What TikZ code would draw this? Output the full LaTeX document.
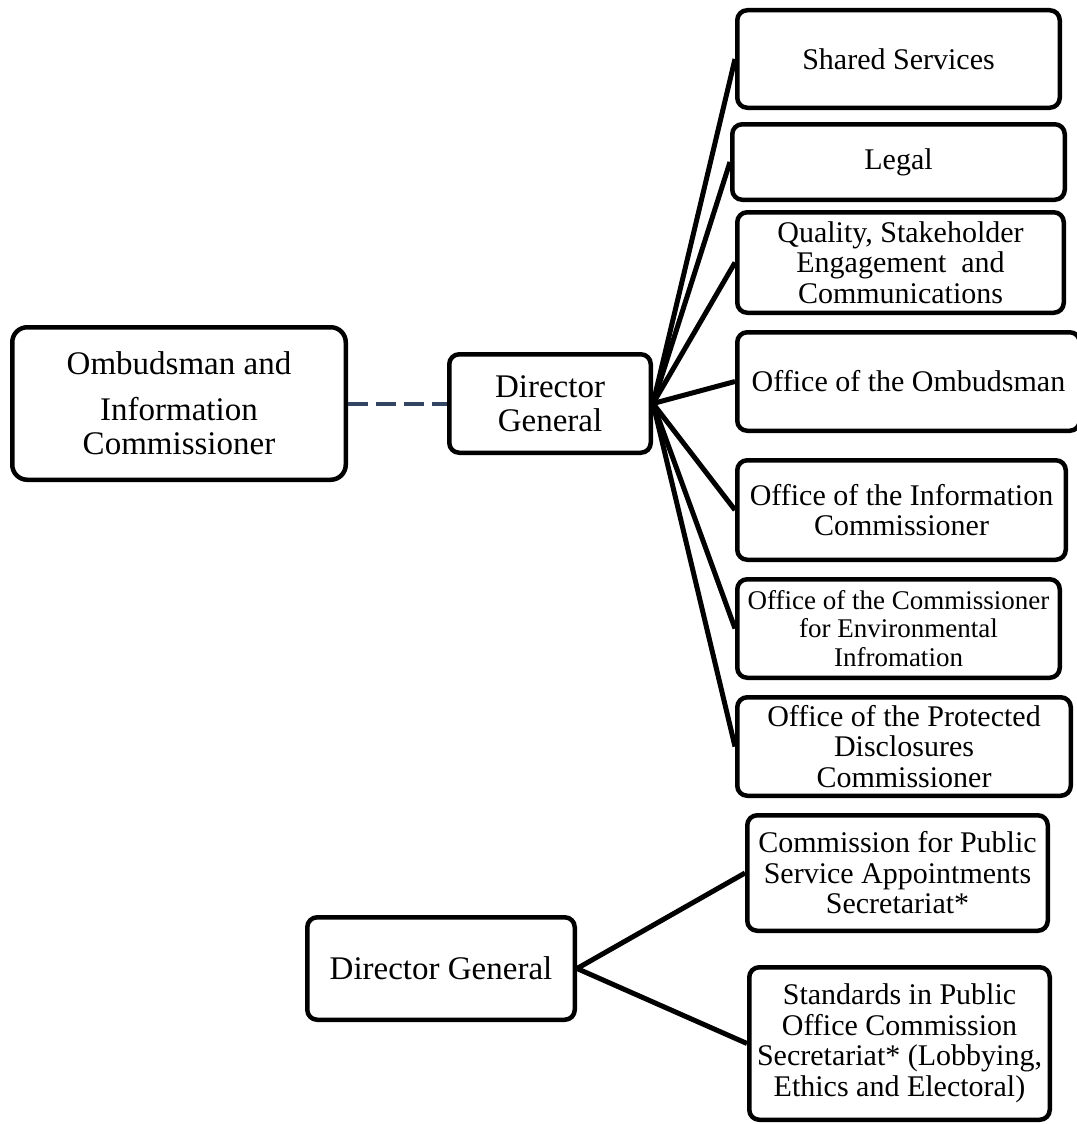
\documentclass[tikz,border=0pt]{standalone}
\usepackage{fontspec}
\setmainfont{Liberation Serif}
\begin{document}
\begin{tikzpicture}[x=1pt,y=-1pt,
  box/.style={draw=black, line width=4.5pt, rounded corners=10pt, align=center, inner sep=0pt, font=\fontsize{30}{30.5}\selectfont},
  bigbox/.style={box, font=\fontsize{33}{34}\selectfont},
  smallbox/.style={box, font=\fontsize{27}{28.5}\selectfont},
  link/.style={draw=black, line width=5pt},
  dashlink/.style={draw={rgb,255:red,50;green,70;blue,100}, line width=4pt, dash pattern=on 20pt off 8pt}
]
\useasboundingbox (0,0) rectangle (1076,1124);

\node[bigbox, rounded corners=15pt, minimum width=333.5pt, minimum height=152.5pt] (oic) at (179,403.5)
  {Ombudsman and\\[12pt]Information\\Commissioner};
\node[bigbox, minimum width=201.5pt, minimum height=98.5pt] (dg1) at (550,403.5)
  {Director\\General};

\node[box, minimum width=322.5pt, minimum height=97.5pt] (ss) at (898.5,59) {Shared Services};
\node[box, minimum width=332.5pt, minimum height=75.5pt] (legal) at (898.5,162) {Legal};
\node[box, minimum width=326.5pt, minimum height=100.5pt] (qual) at (900.5,262.5)
  {Quality, Stakeholder\\Engagement\ \ and\\Communications};
\node[box, minimum width=342.5pt, minimum height=98.5pt] (omb) at (908.5,381.5) {Office of the Ombudsman};
\node[box, minimum width=328.5pt, minimum height=99.5pt] (info) at (901.5,510)
  {Office of the Information\\Commissioner};
\node[smallbox, minimum width=322.5pt, minimum height=98.5pt] (env) at (898.5,628.5)
  {Office of the Commissioner\\for Environmental\\Infromation};
\node[box, minimum width=333.5pt, minimum height=98.5pt] (pdc) at (904,746.5)
  {Office of the Protected\\Disclosures\\Commissioner};

\node[bigbox, minimum width=267.5pt, minimum height=102.5pt] (dg2) at (441,968.5) {Director General};
\node[box, minimum width=300.5pt, minimum height=115.5pt] (cpsa) at (897.5,873)
  {Commission for Public\\Service Appointments\\Secretariat*};
\node[box, minimum width=300.5pt, minimum height=152.5pt] (sipo) at (899.5,1043.5)
  {Standards in Public\\Office Commission\\Secretariat* (Lobbying,\\Ethics and Electoral)};

\draw[dashlink] (oic.east) -- (dg1.west);
\foreach \t in {ss,legal,qual,omb,info,env,pdc}
  \draw[link] (dg1.east) -- (\t.west);
\draw[link] (dg2.east) -- (cpsa.west);
\draw[link] (dg2.east) -- (sipo.west);
\end{tikzpicture}
\end{document}
